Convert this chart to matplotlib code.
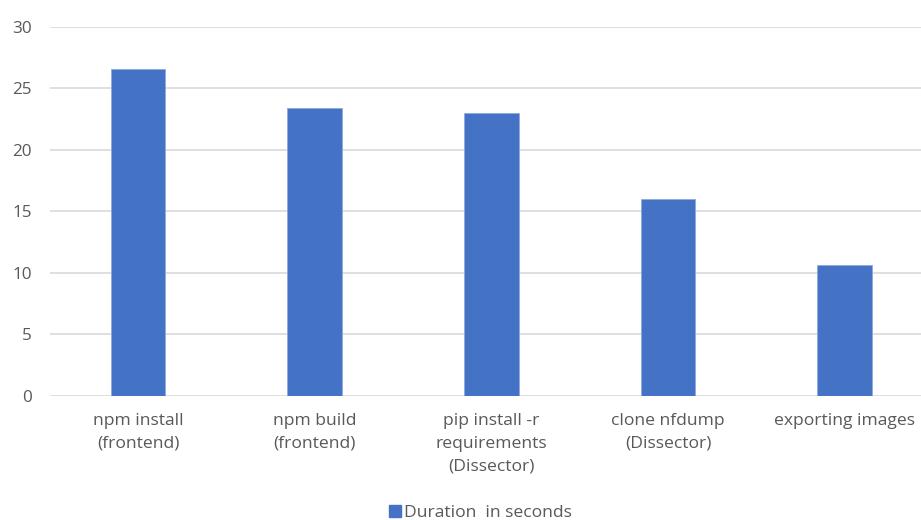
import matplotlib.pyplot as plt
from matplotlib.lines import Line2D

steps = ["npm install\n(frontend)", "npm build\n(frontend)",
         "pip install -r\nrequirements\n(Dissector)", "clone nfdump\n(Dissector)",
         "exporting images"]
durations = [26.6, 23.4, 23.0, 16.0, 10.6]
yticks = [0, 5, 10, 15, 20, 25, 30]

bar_color = "#4472C4"
text_color = "#595959"
grid_color = "#D9D9D9"

plt.rcParams["font.family"] = ["Open Sans", "DejaVu Sans"]

fig = plt.figure(figsize=(9.21, 5.20), dpi=100)
ax = fig.add_axes([49.6 / 921, 124.3 / 520, 883.4 / 921, 369.0 / 520])

x = list(range(len(steps)))
ax.bar(x, durations, width=0.31, color=bar_color, edgecolor="#8FAADC",
       linewidth=0.6, zorder=3)

ax.set_xlim(-0.5, len(steps) - 0.5)
ax.set_ylim(0, 30)
ax.set_yticks(yticks)
ax.set_xticks(x)
ax.set_xticklabels(steps, fontsize=12.6, color=text_color, linespacing=1.55)
ax.tick_params(axis="y", length=0, pad=13, labelsize=12.3, labelcolor=text_color)
ax.tick_params(axis="x", length=0, pad=12.5)
ax.grid(axis="y", color=grid_color, linewidth=1.2, zorder=0)
for s in ax.spines.values():
    s.set_visible(False)

handle = Line2D([], [], marker="s", linestyle="none", markersize=8,
                color=bar_color)
fig.legend([handle], ["Duration  in seconds"], loc="center",
           bbox_to_anchor=(480 / 921, 1 - 513 / 520), frameon=False,
           fontsize=12.6, labelcolor=text_color, handletextpad=0.1,
           handlelength=0.8)

plt.savefig("out.png", dpi=100)
plt.close()
